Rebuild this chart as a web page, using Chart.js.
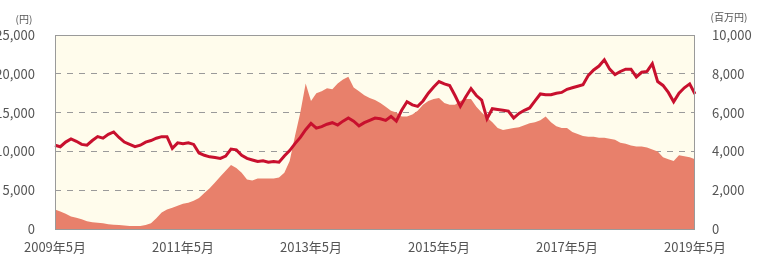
<!DOCTYPE html>
<html lang="ja">
<head>
    <meta charset="UTF-8">
    <title>基準価額と純資産総額の推移</title>
    <script src="https://cdn.jsdelivr.net/npm/chart.js"></script>
    <style>
        html, body {
            margin: 0;
            padding: 0;
            background: #ffffff;
            overflow: hidden;
        }
        #wrap {
            position: relative;
            width: 761px;
            height: 258px;
            overflow: hidden;
        }
        #chart {
            position: absolute;
            left: -20px;
            top: 0;
        }
    </style>
</head>
<body>
<div id="wrap">
    <canvas id="chart" width="781" height="258"></canvas>
</div>

<script>
    // monthly, 2009年5月 .. 2019年5月
    const startYear = 2009;
    const startMonth = 5;

    // 基準価額 (円), left axis
    const price = [
        10800, 10600, 11200, 11600, 11300, 10900, 10800, 11400, 11900, 11700, 12200, 12500,
        11800, 11200, 10900, 10600, 10800, 11200, 11400, 11700, 11900, 11900, 10400, 11100,
        11000, 11100, 10900, 9800, 9500, 9300, 9200, 9100, 9400, 10300, 10200, 9500,
        9100, 8900, 8700, 8800, 8600, 8700, 8600, 9400, 10100, 11000, 11800, 12800,
        13600, 13000, 13200, 13500, 13700, 13400, 13900, 14300, 13900, 13300, 13700, 14000,
        14300, 14200, 14000, 14500, 13900, 15300, 16400, 16000, 15800, 16500, 17500, 18300,
        19000, 18700, 18500, 17200, 15800, 17000, 18100, 17200, 16600, 14200, 15500, 15400,
        15300, 15200, 14300, 14900, 15300, 15600, 16500, 17400, 17300, 17300, 17500, 17600,
        18000, 18200, 18400, 18600, 19800, 20500, 21000, 21800, 20600, 19900, 20300, 20600,
        20600, 19600, 20200, 20300, 21300, 19000, 18500, 17600, 16400, 17500, 18200, 18700,
        17400
    ];

    // 純資産総額 (百万円), right axis
    const assets = [
        1000, 900, 780, 650, 580, 500, 400, 350, 320, 290, 250, 220,
        200, 180, 160, 150, 160, 200, 300, 550, 850, 1000, 1100, 1200,
        1300, 1350, 1450, 1600, 1850, 2100, 2400, 2700, 3000, 3300, 3150, 2900,
        2550, 2500, 2600, 2600, 2600, 2600, 2650, 2900, 3500, 4800, 6000, 7500,
        6600, 7000, 7100, 7250, 7200, 7500, 7700, 7850, 7300, 7100, 6900, 6750,
        6650, 6500, 6300, 6100, 6000, 5800, 5800, 5900, 6100, 6400, 6600, 6700,
        6750, 6500, 6400, 6400, 6600, 6700, 6700, 6300, 6000, 5750, 5500, 5200,
        5100, 5150, 5200, 5250, 5350, 5450, 5500, 5600, 5800, 5500, 5300, 5200,
        5200, 5000, 4900, 4800, 4750, 4750, 4700, 4700, 4650, 4600, 4450, 4400,
        4300, 4250, 4250, 4200, 4100, 4000, 3700, 3600, 3500, 3800, 3750, 3700,
        3600
    ];

    const leftTicks = [0, 5000, 10000, 15000, 20000, 25000];
    const rightTicks = [0, 2000, 4000, 6000, 8000, 10000];

    const labels = price.map((_, i) => {
        const m = startMonth - 1 + i;
        return (startYear + Math.floor(m / 12)) + '年' + (m % 12 + 1) + '月';
    });

    const fontFamily = '"Noto Sans CJK JP", "Noto Sans", sans-serif';
    const textColor = '#555555';

    // cream plot background + grey frame + unit labels
    const decor = {
        id: 'decor',
        beforeDraw(chart) {
            const a = chart.chartArea;
            const ctx = chart.ctx;
            ctx.save();
            ctx.fillStyle = '#fffcec';
            ctx.fillRect(a.left, a.top, a.right - a.left, a.bottom - a.top);
            ctx.restore();
        },
        afterDraw(chart) {
            const a = chart.chartArea;
            const ctx = chart.ctx;
            ctx.save();
            ctx.strokeStyle = '#9a9a9a';
            ctx.lineWidth = 1;
            ctx.strokeRect(a.left + 0.5, a.top + 0.5, a.right - a.left - 1, a.bottom - a.top);
            ctx.fillStyle = textColor;
            ctx.font = '10px ' + fontFamily;
            ctx.textAlign = 'center';
            ctx.textBaseline = 'middle';
            ctx.fillText('(円)', 44, 19);
            ctx.fillText('(百万円)', 749, 17);
            ctx.restore();
        }
    };

    new Chart(document.getElementById('chart'), {
        type: 'line',
        data: {
            labels: labels,
            datasets: [
                {
                    label: '基準価額',
                    data: price,
                    yAxisID: 'y',
                    borderColor: '#c8102e',
                    borderWidth: 3,
                    pointRadius: 0,
                    fill: false,
                    order: 0
                },
                {
                    label: '純資産総額',
                    data: assets,
                    yAxisID: 'y1',
                    borderWidth: 0,
                    borderColor: 'rgba(0,0,0,0)',
                    backgroundColor: '#e8806b',
                    pointRadius: 0,
                    fill: 'origin',
                    order: 1
                }
            ]
        },
        options: {
            responsive: false,
            animation: false,
            layout: { padding: { top: 35, left: 0, right: 0, bottom: 0 } },
            plugins: {
                legend: { display: false },
                tooltip: { enabled: false }
            },
            scales: {
                x: {
                    grid: { display: false, drawTicks: false },
                    border: { display: false },
                    afterFit(scale) { scale.height = 29; },
                    ticks: {
                        autoSkip: false,
                        maxRotation: 0,
                        padding: 10,
                        color: textColor,
                        font: { family: fontFamily, size: 13 },
                        callback(value, index) {
                            return index % 24 === 0 ? labels[index] : null;
                        }
                    }
                },
                y: {
                    position: 'left',
                    min: 0,
                    max: 25000,
                    afterFit(scale) { scale.width = 75; },
                    afterBuildTicks(scale) { scale.ticks = leftTicks.map(v => ({ value: v })); },
                    grid: {
                        drawTicks: false,
                        color: ctx => (ctx.tick && (ctx.tick.value === 0 || ctx.tick.value === 25000)) ? 'rgba(0,0,0,0)' : '#9a9a9a',
                        lineWidth: 1
                    },
                    border: { display: false, dash: [6, 6] },
                    ticks: {
                        padding: 20,
                        color: textColor,
                        font: { family: fontFamily, size: 13 },
                        callback: v => v.toLocaleString('en-US')
                    }
                },
                y1: {
                    position: 'right',
                    min: 0,
                    max: 10000,
                    afterFit(scale) { scale.width = 66; },
                    afterBuildTicks(scale) { scale.ticks = rightTicks.map(v => ({ value: v })); },
                    grid: { display: false, drawTicks: false },
                    border: { display: false },
                    ticks: {
                        padding: 17,
                        color: textColor,
                        font: { family: fontFamily, size: 13 },
                        callback: v => v.toLocaleString('en-US')
                    }
                }
            }
        },
        plugins: [decor]
    });
</script>
</body>
</html>
